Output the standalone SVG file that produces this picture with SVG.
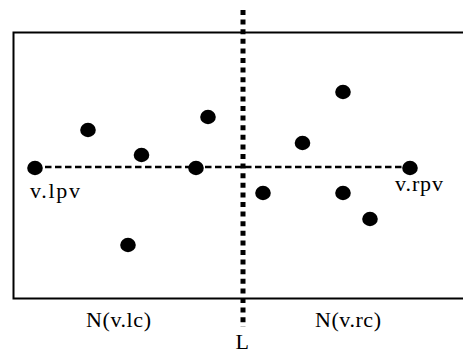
<svg xmlns="http://www.w3.org/2000/svg" width="463" height="353" viewBox="0 0 463 353">
<style>
.pt{fill:#000}
.lbl{font-family:"Liberation Serif","Times New Roman",serif;font-size:22px;fill:#000}
</style>
<rect width="463" height="353" fill="#fff"/>
<g id="frame">
<path d="M470,32.5 H13.5 V298.5 H470" fill="none" stroke="#000" stroke-width="2"/>
</g>
<g id="connectors">
<line x1="35" y1="167" x2="410" y2="167" stroke="#000" stroke-width="2.5" stroke-dasharray="6.5 3.5"/>
<line id="L-line" x1="243" y1="10" x2="243" y2="327" stroke="#000" stroke-width="5" stroke-dasharray="5 4.6"/>
</g>
<g id="n-lpv"><ellipse class="pt" cx="35" cy="168" rx="7.8" ry="7.2"/><text class="lbl" x="30" y="197.5" textLength="50">v.lpv</text></g>
<g id="n1"><ellipse class="pt" cx="88" cy="130" rx="7.8" ry="7.2"/></g>
<g id="n2"><ellipse class="pt" cx="141.5" cy="155" rx="7.8" ry="7.2"/></g>
<g id="n3"><ellipse class="pt" cx="208" cy="117" rx="7.8" ry="7.2"/></g>
<g id="n4"><ellipse class="pt" cx="196" cy="168" rx="7.8" ry="7.2"/></g>
<g id="n5"><ellipse class="pt" cx="128" cy="245" rx="7.8" ry="7.2"/></g>
<g id="n6"><ellipse class="pt" cx="343" cy="92" rx="7.8" ry="7.2"/></g>
<g id="n7"><ellipse class="pt" cx="302.5" cy="143" rx="7.8" ry="7.2"/></g>
<g id="n8"><ellipse class="pt" cx="263" cy="193" rx="7.8" ry="7.2"/></g>
<g id="n9"><ellipse class="pt" cx="343" cy="193" rx="7.8" ry="7.2"/></g>
<g id="n10"><ellipse class="pt" cx="370" cy="219" rx="7.8" ry="7.2"/></g>
<g id="n-rpv"><ellipse class="pt" cx="410" cy="168" rx="7.8" ry="7.2"/><text class="lbl" x="395" y="191" textLength="48">v.rpv</text></g>
<g id="labels">
<text class="lbl" x="86" y="327" textLength="65">N(v.lc)</text>
<text class="lbl" x="315" y="327" textLength="66">N(v.rc)</text>
<text class="lbl" x="235.5" y="349">L</text>
</g>
</svg>
